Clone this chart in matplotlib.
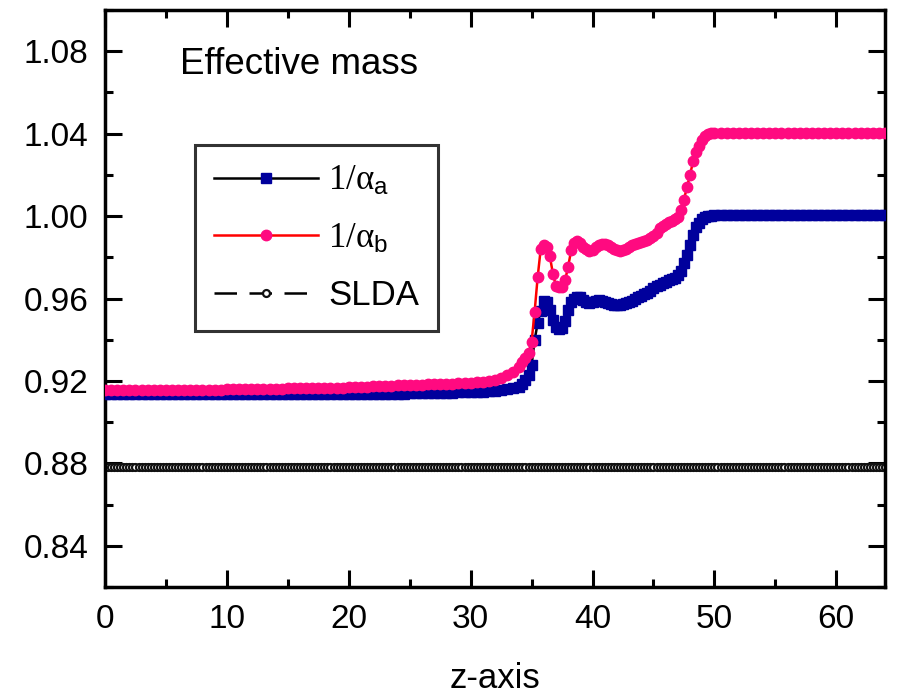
import numpy as np
import matplotlib
matplotlib.use("Agg")
import matplotlib.pyplot as plt
from matplotlib.ticker import MultipleLocator

plt.rcParams["font.family"] = ["Liberation Sans", "DejaVu Sans"]
plt.rcParams["mathtext.fontset"] = "custom"
plt.rcParams["mathtext.rm"] = "Liberation Serif"
plt.rcParams["mathtext.it"] = "Liberation Serif:italic"
plt.rcParams["mathtext.sf"] = "Liberation Sans"

# z grid: coarse in the flat parts, finer through the step
z_left = np.arange(0, 34, 0.5)
z_mid = np.arange(34, 50, 0.25)
z_right = np.arange(50, 64.01, 0.5)
z = np.concatenate([z_left, z_mid, z_right])

# 1/alpha_b (pink)
inv_b_left = ([0.9155] * 10 + [0.9157] * 10 + [0.9160] * 10 + [0.9164] * 10 +
              [0.9170, 0.9171, 0.9172, 0.9173, 0.9174, 0.9175, 0.9176, 0.9177, 0.9178, 0.9179,
               0.9180, 0.9181, 0.9182, 0.9183, 0.9184, 0.9185, 0.9186, 0.9187, 0.9188, 0.9190,
               0.9192, 0.9194, 0.9197, 0.9200, 0.9207, 0.9215, 0.9228, 0.9245])
inv_b_mid = [0.9270, 0.9290, 0.9310, 0.9335, 0.9390, 0.9536, 0.9705, 0.9840,
             0.9858, 0.9850, 0.9805, 0.9720, 0.9660, 0.9655, 0.9657, 0.9688,
             0.9755, 0.9834, 0.9870, 0.9877, 0.9868, 0.9852, 0.9840, 0.9832,
             0.9833, 0.9850, 0.9860, 0.9866, 0.9866, 0.9858, 0.9850, 0.9842,
             0.9835, 0.9830, 0.9834, 0.9840, 0.9850, 0.9858, 0.9865, 0.9870,
             0.9875, 0.9880, 0.9885, 0.9895, 0.9905, 0.9920, 0.9940, 0.9950,
             0.9960, 0.9970, 0.9978, 0.9985, 0.9995, 1.0030, 1.0080, 1.0140,
             1.0200, 1.0265, 1.0310, 1.0340, 1.0370, 1.0388, 1.0398, 1.0403]
inv_b_right = [1.0405] * 29

# 1/alpha_a (blue)
inv_a_left = ([0.9138] * 40 + [0.9139] * 10 +
              [0.9140, 0.9140, 0.9141, 0.9141, 0.9142, 0.9142, 0.9143, 0.9143, 0.9144, 0.9145,
               0.9146, 0.9147, 0.9148, 0.9150, 0.9152, 0.9155, 0.9160, 0.9165])
inv_a_mid = [0.9172, 0.9185, 0.9205, 0.9230, 0.9275, 0.9400, 0.9480, 0.9540,
             0.9590, 0.9582, 0.9545, 0.9495, 0.9460, 0.9450, 0.9455, 0.9490,
             0.9545, 0.9585, 0.9600, 0.9605, 0.9605, 0.9595, 0.9585, 0.9580,
             0.9585, 0.9590, 0.9592, 0.9588, 0.9585, 0.9580, 0.9575, 0.9570,
             0.9568, 0.9570, 0.9573, 0.9577, 0.9583, 0.9590, 0.9598, 0.9605,
             0.9613, 0.9620, 0.9628, 0.9638, 0.9650, 0.9660, 0.9668, 0.9675,
             0.9682, 0.9688, 0.9693, 0.9700, 0.9712, 0.9735, 0.9770, 0.9810,
             0.9860, 0.9910, 0.9945, 0.9968, 0.9985, 0.9995, 1.0000, 1.0002]
inv_a_right = [1.0003] * 29

inv_a = inv_a_left + inv_a_mid + inv_a_right
inv_b = inv_b_left + inv_b_mid + inv_b_right

# SLDA constant
z_slda = np.arange(0, 64.01, 0.25)
slda_value = 0.878

fig = plt.figure(figsize=(9.02, 7.0), dpi=100)
ax = fig.add_axes([0.1164, 0.1614, 0.8648, 0.8243])

ax.plot(z_slda, [slda_value] * len(z_slda), color="black", linestyle=(0, (9, 5)), linewidth=1.8,
        marker="o", markersize=5, markerfacecolor="white", markeredgecolor="#111111",
        markeredgewidth=1.6, label="SLDA", zorder=2)
ax.plot(z, inv_a, color="black", linewidth=1.8, marker="s", markersize=7.5,
        markerfacecolor="#00009C", markeredgecolor="#00009C",
        label=r"$\mathrm{1/α}_{\mathsf{a}}$", zorder=3)
ax.plot(z, inv_b, color="red", linewidth=1.8, marker="o", markersize=7.5,
        markerfacecolor="#FF0A80", markeredgecolor="#FF0A80",
        label=r"$\mathrm{1/α}_{\mathsf{b}}$", zorder=4)

ax.set_xlim(0, 64)
ax.set_ylim(0.82, 1.10)
ax.xaxis.set_major_locator(MultipleLocator(10))
ax.xaxis.set_minor_locator(MultipleLocator(5))
ax.yaxis.set_major_locator(MultipleLocator(0.04))
ax.yaxis.set_minor_locator(MultipleLocator(0.02))
ax.set_yticks([0.84, 0.88, 0.92, 0.96, 1.00, 1.04, 1.08])
ax.yaxis.set_major_formatter(matplotlib.ticker.FormatStrFormatter("%.2f"))

ax.tick_params(which="both", direction="in", top=True, right=True, width=2.2, labelsize=24)
ax.tick_params(which="major", length=12, pad=12)
ax.tick_params(which="minor", length=6)
for sp in ax.spines.values():
    sp.set_linewidth(2.5)

ax.set_xlabel("z-axis", fontsize=25, labelpad=20)
ax.text(0.096, 0.905, "Effective mass", transform=ax.transAxes, fontsize=26.5, va="center", ha="left")

handles, labels = ax.get_legend_handles_labels()
order = [1, 2, 0]
leg = ax.legend([handles[i] for i in order], [labels[i] for i in order],
                loc="upper left", bbox_to_anchor=(0.115, 0.766), borderaxespad=0,
                fontsize=25, handlelength=3.0, handletextpad=0.3, labelspacing=0.7,
                fancybox=False, frameon=True, edgecolor="black", borderpad=0.55)
leg.get_frame().set_linewidth(2.2)

fig.savefig("out.png", dpi=100)
